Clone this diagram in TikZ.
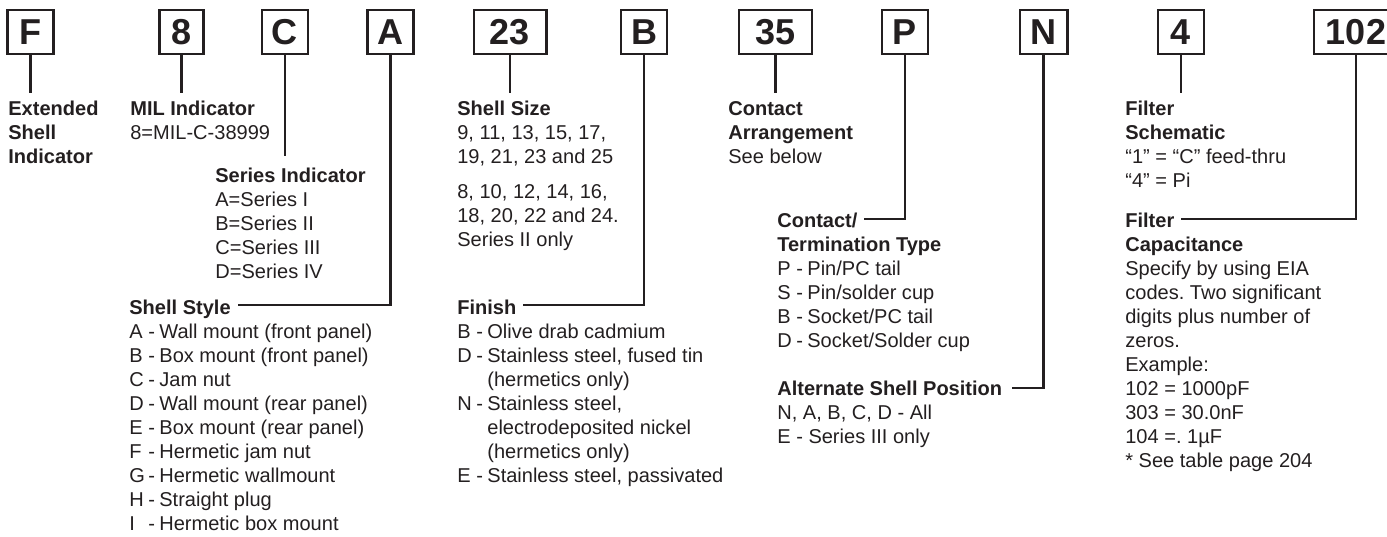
\documentclass[tikz,border=0pt]{standalone}
\usepackage{fontspec}
\setmainfont{Liberation Sans}
\usepackage{tikz}
\usetikzlibrary{positioning}
\usepackage{xcolor}
\definecolor{ink}{HTML}{231F20}
\frenchspacing

% item letter and dash in fixed columns
\newcommand{\itm}[1]{\makebox[0.95em][l]{#1}\makebox[0.55em][l]{-}}
\newcommand{\cnt}{\hspace*{1.5em}}

\begin{document}
\begin{tikzpicture}[
        x=0.02cm, y=-0.02cm,
        code/.style={draw=ink, line width=1.15pt, text=ink, minimum height=0.88cm, minimum width=0.92cm,
            inner sep=1pt, font=\fontsize{20.5}{24}\selectfont\bfseries},
        wide/.style={minimum width=1.46cm},
        block/.style={anchor=base west, align=left, inner sep=0pt, text=ink,
            font=\fontsize{11.4}{13.66}\selectfont},
        lead/.style={draw=ink, line width=1.15pt}
    ]
        \clip (0,0) rectangle (1387,537);

        % Code boxes
        \node[code] (F) at (30.5,32) {F};
        \node[code, minimum width=0.88cm] (8) at (181.5,32) {8};
        \node[code] (C) at (285,32) {C};
        \node[code] (A) at (390.5,32) {A};
        \node[code, wide] (23) at (510,32) {23};
        \node[code] (B) at (644,32) {B};
        \node[code, wide] (35) at (775.5,32) {35};
        \node[code] (P) at (905,32) {P};
        \node[code, minimum width=0.96cm] (N) at (1043.5,32) {N};
        \node[code] (4) at (1181,32) {4};
        \node[code, minimum width=1.68cm] (102) at (1356,32) {102};

        % Descriptions (placed at the baseline of their last line)
        \node[block] (ext) at (8,164) {\textbf{Extended}\\\textbf{Shell}\\\textbf{Indicator}};
        \node[block] (mil) at (130,140) {\textbf{MIL Indicator}\\8=MIL-C-38999};
        \node[block] (ser) at (215,278) {\textbf{Series Indicator}\\A=Series I\\B=Series II\\C=Series III\\D=Series IV};
        \node[block] (sty) at (129,530) {\textbf{Shell Style}\\
            \itm{A}Wall mount (front panel)\\\itm{B}Box mount (front panel)\\\itm{C}Jam nut\\
            \itm{D}Wall mount (rear panel)\\\itm{E}Box mount (rear panel)\\\itm{F}Hermetic jam nut\\
            \itm{G}Hermetic wallmount\\\itm{H}Straight plug\\\itm{I}Hermetic box mount};
        \node[block] (siz) at (457,246) {\textbf{Shell Size}\\9, 11, 13, 15, 17,\\19, 21, 23 and 25\\[5.7pt]
            8, 10, 12, 14, 16,\\18, 20, 22 and 24.\\Series II only};
        \node[block] (fin) at (457,482) {\textbf{Finish}\\\itm{B}Olive drab cadmium\\
            \itm{D}Stainless steel, fused tin\\\cnt(hermetics only)\\\itm{N}Stainless steel,\\
            \cnt electrodeposited nickel\\\cnt(hermetics only)\\\itm{E}Stainless steel, passivated};
        \node[block] (arr) at (728,164) {\textbf{Contact}\\\textbf{Arrangement}\\See below};
        \node[block] (ter) at (777,347) {\textbf{Contact/}\\\textbf{Termination Type}\\
            \itm{P}Pin/PC tail\\\itm{S}Pin/solder cup\\\itm{B}Socket/PC tail\\\itm{D}Socket/Solder cup};
        \node[block] (alt) at (777,443) {\textbf{Alternate Shell Position}\\N, A, B, C, D - All\\E - Series III only};
        \node[block] (sch) at (1125,188) {\textbf{Filter}\\\textbf{Schematic}\\“1” = “C” feed-thru\\“4” = Pi};
        \node[block] (cap) at (1125,467) {\textbf{Filter}\\\textbf{Capacitance}\\Specify by using EIA\\
            codes. Two significant\\digits plus number of\\zeros.\\Example:\\102 = 1000pF\\303 = 30.0nF\\
            104 =. 1µF\\* See table page 204};

        % Leader ends
        \coordinate (Fend) at (30.5,93);
        \coordinate (8end) at (181.5,93);
        \coordinate (Cend) at (285,156);
        \coordinate (Aend) at (238,305);
        \coordinate (23end) at (510,93);
        \coordinate (Bend) at (523,305);
        \coordinate (35end) at (775.5,93);
        \coordinate (Pend) at (864,219);
        \coordinate (Nend) at (1012,388);
        \coordinate (4end) at (1181,93);
        \coordinate (102end) at (1181,219);

        % Leaders
        \foreach \b in {F, 8, C, 23, 35, 4}
            \draw[lead] (\b.south) -- (\b end);
        \foreach \b in {A, B, P, N, 102}
            \draw[lead] (\b.south) |- (\b end);
    \end{tikzpicture}
\end{document}
